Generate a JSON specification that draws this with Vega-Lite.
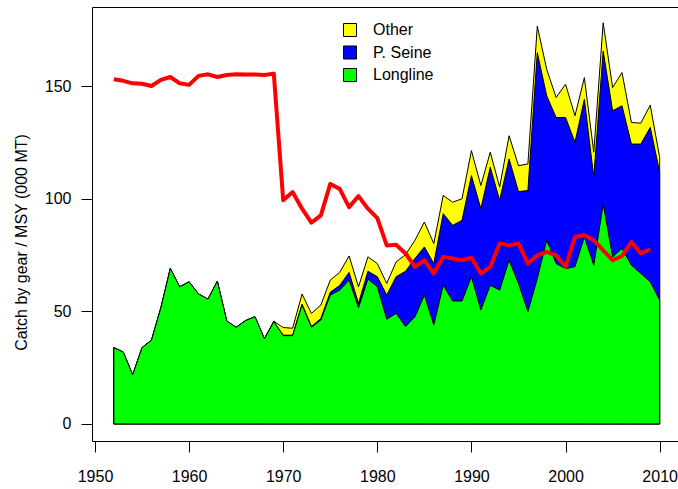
{
  "$schema": "https://vega.github.io/schema/vega-lite/v6.json",
  "width": 586,
  "height": 434,
  "autosize": {"type": "none"},
  "padding": {"left": 92, "top": 7, "right": 0, "bottom": 48},
  "background": "white",
  "config": {
    "view": {"stroke": null},
    "font": "Liberation Sans",
    "axis": {"labelFont": "Liberation Sans", "titleFont": "Liberation Sans", "labelFontSize": 16, "titleFontSize": 16, "labelColor": "black", "titleColor": "black", "tickColor": "black", "domainColor": "black", "grid": false, "tickSize": 11, "titleFontWeight": "normal"},
    "legend": {"labelFont": "Liberation Sans", "labelFontSize": 16, "labelColor": "black"}
  },
  "data": {"values": [
    {"year": 1952, "ll": 33.9, "llps": 33.9, "total": 33.9, "msy": 153.1},
    {"year": 1953, "ll": 31.9, "llps": 31.9, "total": 31.9, "msy": 152.4},
    {"year": 1954, "ll": 21.8, "llps": 21.8, "total": 21.8, "msy": 151.3},
    {"year": 1955, "ll": 33.9, "llps": 33.9, "total": 33.9, "msy": 151.1},
    {"year": 1956, "ll": 37.2, "llps": 37.2, "total": 37.2, "msy": 150.1},
    {"year": 1957, "ll": 51.6, "llps": 51.6, "total": 51.6, "msy": 152.8},
    {"year": 1958, "ll": 69.0, "llps": 69.0, "total": 69.0, "msy": 154.1},
    {"year": 1959, "ll": 60.9, "llps": 60.9, "total": 60.9, "msy": 151.3},
    {"year": 1960, "ll": 63.1, "llps": 63.1, "total": 63.1, "msy": 150.6},
    {"year": 1961, "ll": 57.7, "llps": 57.7, "total": 57.7, "msy": 154.6},
    {"year": 1962, "ll": 55.4, "llps": 55.4, "total": 55.4, "msy": 155.3},
    {"year": 1963, "ll": 63.4, "llps": 63.4, "total": 63.4, "msy": 154.1},
    {"year": 1964, "ll": 45.7, "llps": 45.7, "total": 45.7, "msy": 155.0},
    {"year": 1965, "ll": 42.9, "llps": 42.9, "total": 42.9, "msy": 155.3},
    {"year": 1966, "ll": 45.9, "llps": 45.9, "total": 45.9, "msy": 155.2},
    {"year": 1967, "ll": 47.6, "llps": 47.6, "total": 47.6, "msy": 155.2},
    {"year": 1968, "ll": 37.8, "llps": 37.8, "total": 37.8, "msy": 155.0},
    {"year": 1969, "ll": 45.4, "llps": 45.4, "total": 45.6, "msy": 155.6},
    {"year": 1970, "ll": 39.2, "llps": 39.4, "total": 42.8, "msy": 99.3},
    {"year": 1971, "ll": 39.2, "llps": 39.4, "total": 42.5, "msy": 103.0},
    {"year": 1972, "ll": 52.8, "llps": 53.2, "total": 57.7, "msy": 95.6},
    {"year": 1973, "ll": 42.9, "llps": 43.3, "total": 49.1, "msy": 89.4},
    {"year": 1974, "ll": 46.2, "llps": 46.8, "total": 52.8, "msy": 92.6},
    {"year": 1975, "ll": 57.2, "llps": 58.5, "total": 63.9, "msy": 106.6},
    {"year": 1976, "ll": 59.4, "llps": 61.5, "total": 67.3, "msy": 104.4},
    {"year": 1977, "ll": 63.9, "llps": 67.3, "total": 74.6, "msy": 96.3},
    {"year": 1978, "ll": 51.6, "llps": 53.5, "total": 60.9, "msy": 101.2},
    {"year": 1979, "ll": 64.3, "llps": 67.8, "total": 74.2, "msy": 95.6},
    {"year": 1980, "ll": 60.9, "llps": 65.4, "total": 71.2, "msy": 91.4},
    {"year": 1981, "ll": 46.5, "llps": 57.2, "total": 62.4, "msy": 79.3},
    {"year": 1982, "ll": 49.1, "llps": 65.4, "total": 72.0, "msy": 79.6},
    {"year": 1983, "ll": 43.2, "llps": 67.8, "total": 75.2, "msy": 75.7},
    {"year": 1984, "ll": 47.6, "llps": 73.5, "total": 81.6, "msy": 69.8},
    {"year": 1985, "ll": 57.2, "llps": 78.6, "total": 89.7, "msy": 72.7},
    {"year": 1986, "ll": 43.9, "llps": 71.2, "total": 80.1, "msy": 66.8},
    {"year": 1987, "ll": 61.6, "llps": 93.4, "total": 101.5, "msy": 74.2},
    {"year": 1988, "ll": 54.6, "llps": 88.2, "total": 98.5, "msy": 73.5},
    {"year": 1989, "ll": 54.6, "llps": 90.4, "total": 100.0, "msy": 72.7},
    {"year": 1990, "ll": 65.4, "llps": 110.3, "total": 121.4, "msy": 73.8},
    {"year": 1991, "ll": 50.6, "llps": 95.6, "total": 105.9, "msy": 66.8},
    {"year": 1992, "ll": 61.6, "llps": 114.0, "total": 120.7, "msy": 69.8},
    {"year": 1993, "ll": 59.4, "llps": 99.3, "total": 105.2, "msy": 80.1},
    {"year": 1994, "ll": 72.7, "llps": 117.7, "total": 128.0, "msy": 79.3},
    {"year": 1995, "ll": 62.4, "llps": 103.2, "total": 114.7, "msy": 80.1},
    {"year": 1996, "ll": 49.9, "llps": 103.7, "total": 115.5, "msy": 71.2},
    {"year": 1997, "ll": 64.6, "llps": 164.9, "total": 176.7, "msy": 74.9},
    {"year": 1998, "ll": 81.6, "llps": 145.7, "total": 157.5, "msy": 76.4},
    {"year": 1999, "ll": 71.2, "llps": 136.1, "total": 145.0, "msy": 74.9},
    {"year": 2000, "ll": 69.0, "llps": 136.1, "total": 150.9, "msy": 69.8},
    {"year": 2001, "ll": 69.8, "llps": 125.1, "total": 136.9, "msy": 83.0},
    {"year": 2002, "ll": 83.0, "llps": 144.2, "total": 153.8, "msy": 83.8},
    {"year": 2003, "ll": 70.5, "llps": 109.6, "total": 120.7, "msy": 81.6},
    {"year": 2004, "ll": 97.8, "llps": 165.6, "total": 178.2, "msy": 77.1},
    {"year": 2005, "ll": 74.2, "llps": 139.1, "total": 149.4, "msy": 72.7},
    {"year": 2006, "ll": 77.9, "llps": 141.3, "total": 156.1, "msy": 74.6},
    {"year": 2007, "ll": 70.5, "llps": 124.3, "total": 133.9, "msy": 80.8},
    {"year": 2008, "ll": 66.8, "llps": 124.3, "total": 133.6, "msy": 75.7},
    {"year": 2009, "ll": 63.1, "llps": 131.7, "total": 141.6, "msy": 77.6},
    {"year": 2010, "ll": 55.0, "llps": 111.8, "total": 118.4, "msy": null}
  ]},
  "layer": [
    {
      "mark": {"type": "area", "stroke": "black", "strokeWidth": 1, "interpolate": "linear"},
      "encoding": {
        "x": {"field": "year", "type": "quantitative", "scale": {"domain": [1949.68, 2011.95], "nice": false, "zero": false},
              "axis": {"orient": "top", "labels": false, "ticks": false, "title": null, "domain": true}},
        "y": {"field": "total", "type": "quantitative", "scale": {"domain": [-7.6, 185.2], "nice": false, "zero": false}, "axis": null},
        "y2": {"datum": 0},
        "color": {"datum": "Other", "type": "nominal",
                  "scale": {"domain": ["Other", "P. Seine", "Longline"], "range": ["#FFFF00", "#0000FF", "#00FF00"]},
                  "legend": {"title": null, "orient": "none", "legendX": 250, "legendY": 15, "symbolType": "square", "symbolSize": 169, "symbolStrokeColor": "black", "symbolStrokeWidth": 1, "symbolOpacity": 1, "rowPadding": 4.5, "labelOffset": 15, "padding": 0}}
      }
    },
    {
      "mark": {"type": "area", "stroke": "black", "strokeWidth": 1, "interpolate": "linear"},
      "encoding": {
        "x": {"field": "year", "type": "quantitative", "axis": null},
        "y": {"field": "llps", "type": "quantitative", "axis": null},
        "y2": {"datum": 0},
        "color": {"datum": "P. Seine", "type": "nominal"}
      }
    },
    {
      "mark": {"type": "area", "stroke": "black", "strokeWidth": 1, "interpolate": "linear"},
      "encoding": {
        "x": {"field": "year", "type": "quantitative", "axis": null},
        "y": {"field": "ll", "type": "quantitative", "axis": null},
        "y2": {"datum": 0},
        "color": {"datum": "Longline", "type": "nominal"}
      }
    },
    {
      "mark": {"type": "line", "color": "#FF0000", "strokeWidth": 4, "strokeJoin": "round", "strokeCap": "butt"},
      "encoding": {
        "x": {"field": "year", "type": "quantitative",
              "axis": {"orient": "bottom", "values": [1950, 1960, 1970, 1980, 1990, 2000, 2010], "format": "d", "title": null, "labelPadding": 16, "domain": true, "labelFlush": false}},
        "y": {"field": "msy", "type": "quantitative",
              "axis": {"orient": "left", "values": [0, 50, 100, 150], "title": "Catch by gear / MSY (000 MT)", "labelPadding": 10, "domain": true, "titleX": -71, "titleY": 235, "titleBaseline": "middle", "titleAngle": -90, "titleFontSize": 16}}
      }
    }
  ],
  "resolve": {"axis": {"x": "independent", "y": "independent"}}
}
